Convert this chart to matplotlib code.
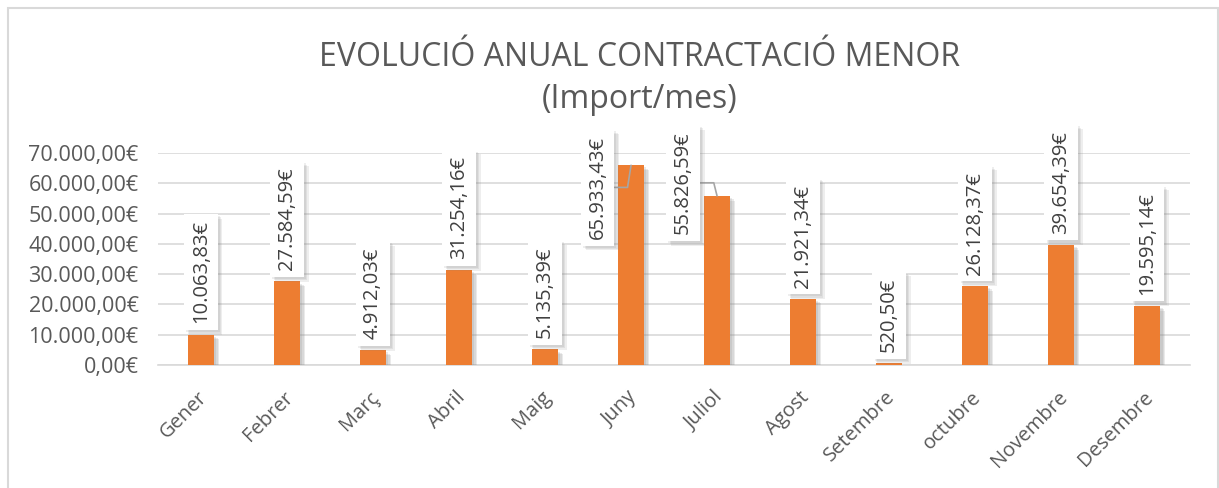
import matplotlib
matplotlib.use("Agg")
import matplotlib.pyplot as plt
import matplotlib.patches as patches
import matplotlib.transforms as mtransforms
from matplotlib import patheffects as pe
from matplotlib.ticker import FuncFormatter

plt.rcParams['font.family'] = ['Open Sans', 'DejaVu Sans']

months = ["Gener", "Febrer", "Març", "Abril", "Maig", "Juny", "Juliol",
          "Agost", "Setembre", "octubre", "Novembre", "Desembre"]
amounts = [10063.83, 27584.59, 4912.03, 31254.16, 5135.39, 65933.43,
           55826.59, 21921.34, 520.50, 26128.37, 39654.39, 19595.14]
y_ticks = [0, 10000, 20000, 30000, 40000, 50000, 60000, 70000]

# labels that Excel moved off the bar (month index -> offset in points, leader angle)
moved_labels = {5: (-24, -53, 81), 6: (-24.5, -27.5, -76)}

ORANGE = "#ED7D31"
GRID = "#D9D9D9"
TXT = "#595959"
LBL = "#404040"


def euro(v, pos=None):
    s = f"{v:,.2f}"
    return s.replace(",", "X").replace(".", ",").replace("X", ".") + "€"


def soft_shadow(alpha):
    # a few stacked shadows fake the blurred Excel drop shadow
    layers = [pe.SimplePatchShadow(offset=(k, -k), shadow_rgbFace="#808080", alpha=alpha)
              for k in (3.5, 2.5, 1.5)]
    return layers + [pe.Normal()]


fig = plt.figure(figsize=(12.19, 4.88), dpi=100)
fig.patches.append(patches.Rectangle((8 / 1219, -0.02), 1210 / 1219, 1.02 - 8 / 488,
                                     transform=fig.transFigure, fill=False,
                                     edgecolor=GRID, linewidth=1.5))
ax = fig.add_axes([0.1296, 0.252, 0.8467, 0.4345])

x = range(len(months))
bars = ax.bar(x, amounts, width=0.31, color=ORANGE, zorder=3)
for b in bars:
    b.set_path_effects(soft_shadow(0.16))

ax.set_xlim(-0.5, len(months) - 0.5)
ax.set_ylim(0, 70000)
ax.set_yticks(y_ticks)
ax.yaxis.set_major_formatter(FuncFormatter(euro))
ax.grid(axis="y", color=GRID, linewidth=1.2, zorder=0)
ax.set_axisbelow(True)
for s in ["top", "right", "left"]:
    ax.spines[s].set_visible(False)
ax.spines["bottom"].set_color(GRID)
ax.spines["bottom"].set_linewidth(1.2)
ax.tick_params(length=0, colors=TXT)
ax.tick_params(axis="y", pad=14, labelsize=15.5)
ax.set_xticks(list(x))
ax.set_xticklabels(months, rotation=45, ha="right", rotation_mode="anchor")
ax.tick_params(axis="x", pad=16, labelsize=14.5)
shift = mtransforms.ScaledTranslation(-4 / 100, 0, fig.dpi_scale_trans)
for lab in ax.get_xticklabels():
    lab.set_transform(lab.get_transform() + shift)

lbl_kw = dict(textcoords="offset points", rotation=90, ha="center", va="bottom",
              fontsize=14.5, annotation_clip=False, color=LBL, zorder=5)
for i, v in enumerate(amounts):
    arrow = None
    if i in moved_labels:
        dx, dy, ang = moved_labels[i]
        arrow = dict(arrowstyle="-", color="#A6A6A6", lw=1.2, shrinkA=0, shrinkB=0,
                     connectionstyle=f"angle,angleA=0,angleB={ang},rad=0")
    else:
        dx, dy = 0, 8
    t = ax.annotate(euro(v), xy=(i, v), xytext=(dx, dy),
                    bbox=dict(boxstyle="square,pad=0.33", fc="white", ec="none"),
                    arrowprops=arrow, **lbl_kw)
    t.get_bbox_patch().set_path_effects(soft_shadow(0.13))

fig.text(0.525, 0.882, "EVOLUCIÓ ANUAL CONTRACTACIÓ MENOR", ha="center", va="center",
         fontsize=23, color=TXT)
fig.text(0.525, 0.796, "(Import/mes)", ha="center", va="center", fontsize=23, color=TXT)

fig.savefig("out.png", dpi=100)
